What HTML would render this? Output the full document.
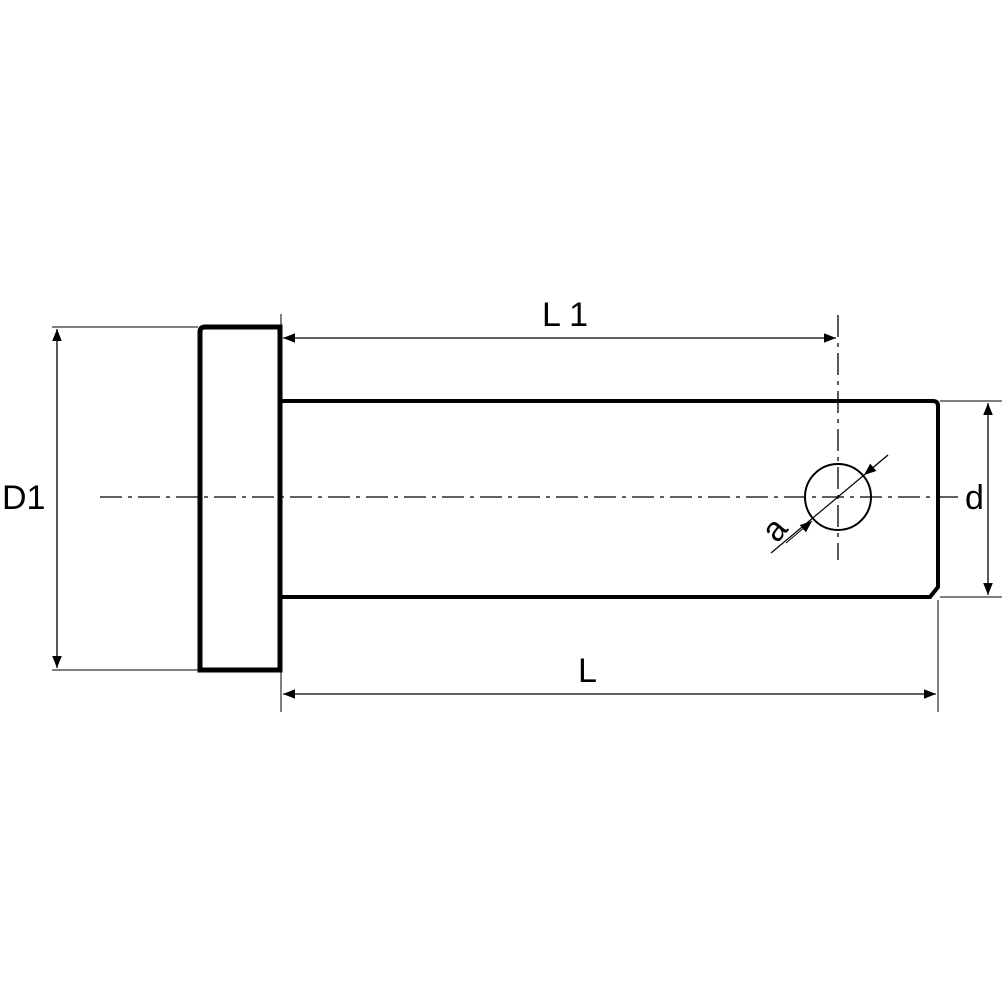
<!DOCTYPE html>
<html><head><style>body{margin:0;background:#fff}svg{display:block}</style></head><body>
<svg width="1005" height="1005" viewBox="0 0 1005 1005" xmlns="http://www.w3.org/2000/svg">
<defs>
<marker id="a" viewBox="0 0 10 10" refX="10" refY="5" markerWidth="22" markerHeight="12" markerUnits="userSpaceOnUse" orient="auto-start-reverse"><path d="M0,1 L10,5 L0,9 z" fill="#000"/></marker>
</defs>
<g fill="none" stroke="#000">
<path d="M200,670 L200,332 Q200,327 205,327 L280,327 L280,670 Z" stroke-width="5"/>
<path d="M281,401 L933,401 Q938,401 938,406 L938,587 L930,597 L281,597" stroke-width="4"/>
<path d="M100,497 L960,497" stroke-width="1.3" stroke-dasharray="22,6,4,6"/>
<path d="M838,315 L838,560" stroke-width="1.3" stroke-dasharray="22,6,4,6"/>
<circle cx="838" cy="497" r="33" stroke-width="2"/>
<path d="M52,327 L198,327 M52,670 L198,670" stroke-width="1"/>
<path d="M281,314 L281,712 M938,600 L938,712" stroke-width="1"/>
<path d="M940,401 L1002,401 M940,597 L1002,597" stroke-width="1"/>
<path d="M57,329 L57,668" stroke-width="1.3" marker-start="url(#a)" marker-end="url(#a)"/>
<path d="M283,338 L836,338" stroke-width="1.3" marker-start="url(#a)" marker-end="url(#a)"/>
<path d="M283,694 L936,694" stroke-width="1.3" marker-start="url(#a)" marker-end="url(#a)"/>
<path d="M988,403 L988,595" stroke-width="1.3" marker-start="url(#a)" marker-end="url(#a)"/>
<path d="M771,553 L888,455" stroke-width="1.2"/>
<path d="M786,543 L812,521" stroke-width="1" marker-end="url(#a)"/>
<path d="M888,455 L864,475" stroke-width="1" marker-end="url(#a)"/>
</g>
<g font-family="Liberation Sans, sans-serif" font-size="34" fill="#000">
<text x="2" y="509">D1</text>
<text x="542" y="326">L 1</text>
<text x="578" y="682">L</text>
<text x="965" y="509">d</text>
<text x="0" y="0" transform="translate(777,544) rotate(-50)">a</text>
</g>
</svg>
</body></html>
